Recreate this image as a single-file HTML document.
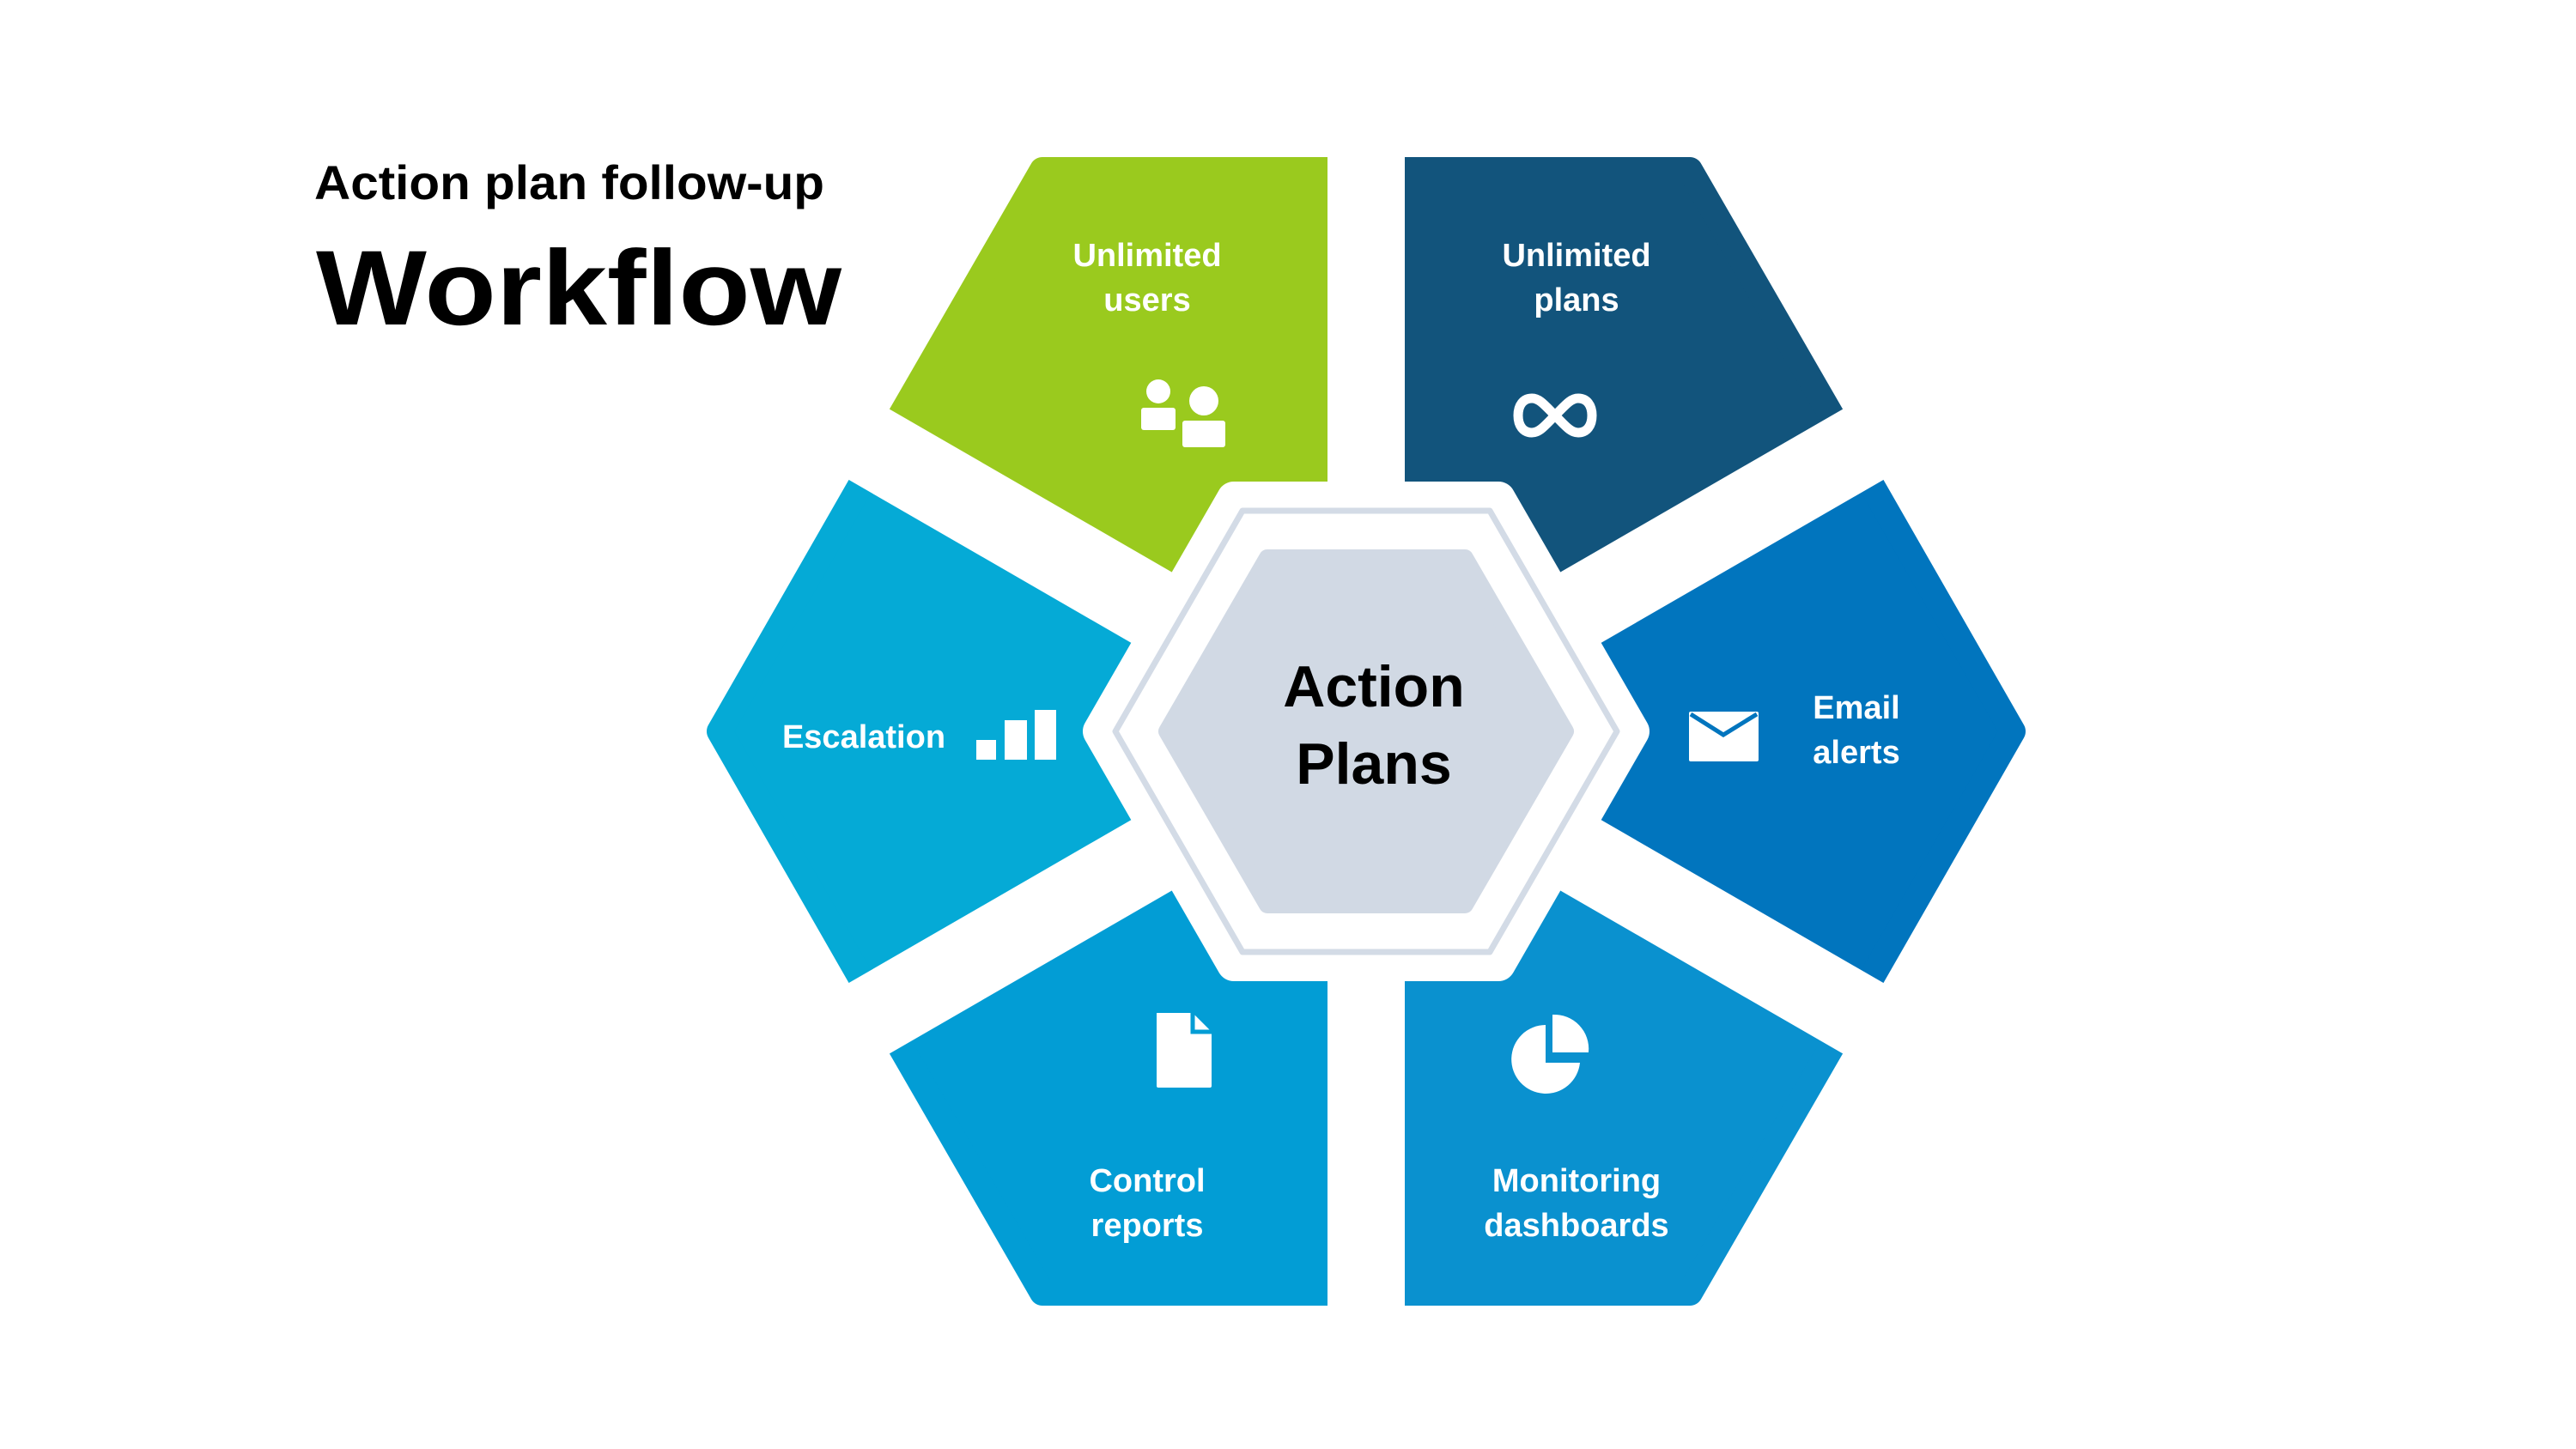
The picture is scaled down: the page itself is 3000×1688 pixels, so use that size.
<!DOCTYPE html>
<html><head><meta charset="utf-8"><style>
html,body{margin:0;padding:0;background:#fff;}
svg{display:block;}
text{font-family:"Liberation Sans",sans-serif;font-weight:bold;}
</style></head><body>
<svg width="3000" height="1688" viewBox="0 0 3000 1688" xmlns="http://www.w3.org/2000/svg">
<rect width="3000" height="1688" fill="#fff"/>

<g stroke-width="30" stroke-linejoin="round">
<polygon fill="#9aca1e" stroke="#9aca1e" points="1591,852 1591,198 1214,198 1025,525.5"/>
<polygon fill="#12547c" stroke="#12547c" points="1591,852 1591,198 1968,198 2157,525.5"/>
<polygon fill="#0175be" stroke="#0175be" points="1591,852 2157,525.5 2344,852 2157,1178.5"/>
<polygon fill="#0a91cf" stroke="#0a91cf" points="1591,852 2157,1178.5 1968,1506 1591,1506"/>
<polygon fill="#029dd5" stroke="#029dd5" points="1591,852 1591,1506 1214,1506 1025,1178.5"/>
<polygon fill="#05aad6" stroke="#05aad6" points="1591,852 1025,1178.5 838,852 1025,525.5"/>
</g>
<g stroke="#fff">
<line x1="1591" y1="150" x2="1591" y2="1560" stroke-width="90"/>
<line x1="829" y1="412" x2="2353" y2="1292" stroke-width="95"/>
<line x1="829" y1="1292" x2="2353" y2="412" stroke-width="95"/>
</g>
<polygon fill="#fff" stroke="#fff" stroke-width="40" stroke-linejoin="round" points="1281,852 1437,581 1745,581 1901,852 1745,1123 1437,1123"/>
<polygon fill="#fff" stroke="#d3dbe6" stroke-width="7" stroke-linejoin="round" points="1299,852 1447,595 1735,595 1883,852 1735,1109 1447,1109"/>
<polygon fill="#d1d9e4" stroke="#d1d9e4" stroke-width="20" stroke-linejoin="round" points="1359,852 1476,650 1706,650 1823,852 1706,1054 1476,1054"/>
<text x="1600" y="823" font-size="68" text-anchor="middle" fill="#000">Action</text>
<text x="1600" y="913" font-size="68" text-anchor="middle" fill="#000">Plans</text>

<text x="366" y="232" font-size="56" textLength="594" lengthAdjust="spacingAndGlyphs" fill="#000">Action plan follow-up</text>
<text x="368" y="378" font-size="124" textLength="612" lengthAdjust="spacingAndGlyphs" fill="#000">Workflow</text>

<g fill="#fff" font-size="38" text-anchor="middle">
<text x="1336" y="310">Unlimited</text><text x="1336" y="362">users</text>
<text x="1836" y="310">Unlimited</text><text x="1836" y="362">plans</text>
<text x="1006" y="871">Escalation</text>
<text x="2162" y="837">Email</text><text x="2162" y="889">alerts</text>
<text x="1336" y="1388">Control</text><text x="1336" y="1440">reports</text>
<text x="1836" y="1388">Monitoring</text><text x="1836" y="1440">dashboards</text>
</g>

<g fill="#fff">
<circle cx="1349" cy="456" r="14"/><rect x="1329" y="475" width="40" height="26" rx="3"/>
<circle cx="1402" cy="467" r="17"/><rect x="1377" y="490" width="50" height="31" rx="3"/>
<rect x="1137" y="862" width="23" height="23"/><rect x="1170" y="839" width="26" height="46"/><rect x="1205" y="827" width="25" height="58"/>
</g>
<g fill="none" stroke="#fff" stroke-width="11" stroke-linecap="round">
<path d="M1811,484 C1799,472 1793,464 1784,464 C1774,464 1768,472 1768,484 C1768,496 1774,504 1784,504 C1793,504 1799,496 1811,484 C1823,472 1829,464 1838,464 C1848,464 1854,472 1854,484 C1854,496 1848,504 1838,504 C1829,504 1823,496 1811,484 Z"/>
</g>
<rect x="1967" y="829" width="81" height="58" rx="2" fill="#fff"/>
<polyline points="1969,832 2007,856 2046,832" fill="none" stroke="#0175be" stroke-width="5"/>
<path d="M1347,1180 h42 l22,22 v63 a2,2 0 0 1 -2,2 h-60 a2,2 0 0 1 -2,-2 z" fill="#fff"/>
<path d="M1389,1178 v24 h22" fill="none" stroke="#029dd5" stroke-width="5"/>
<path d="M1800,1194 A40,40 0 1 0 1840,1238 L1800,1238 Z" fill="#fff"/>
<path d="M1808,1182 A40,40 0 0 1 1850,1226 L1808,1226 Z" fill="#fff"/>
</svg>
</body></html>
